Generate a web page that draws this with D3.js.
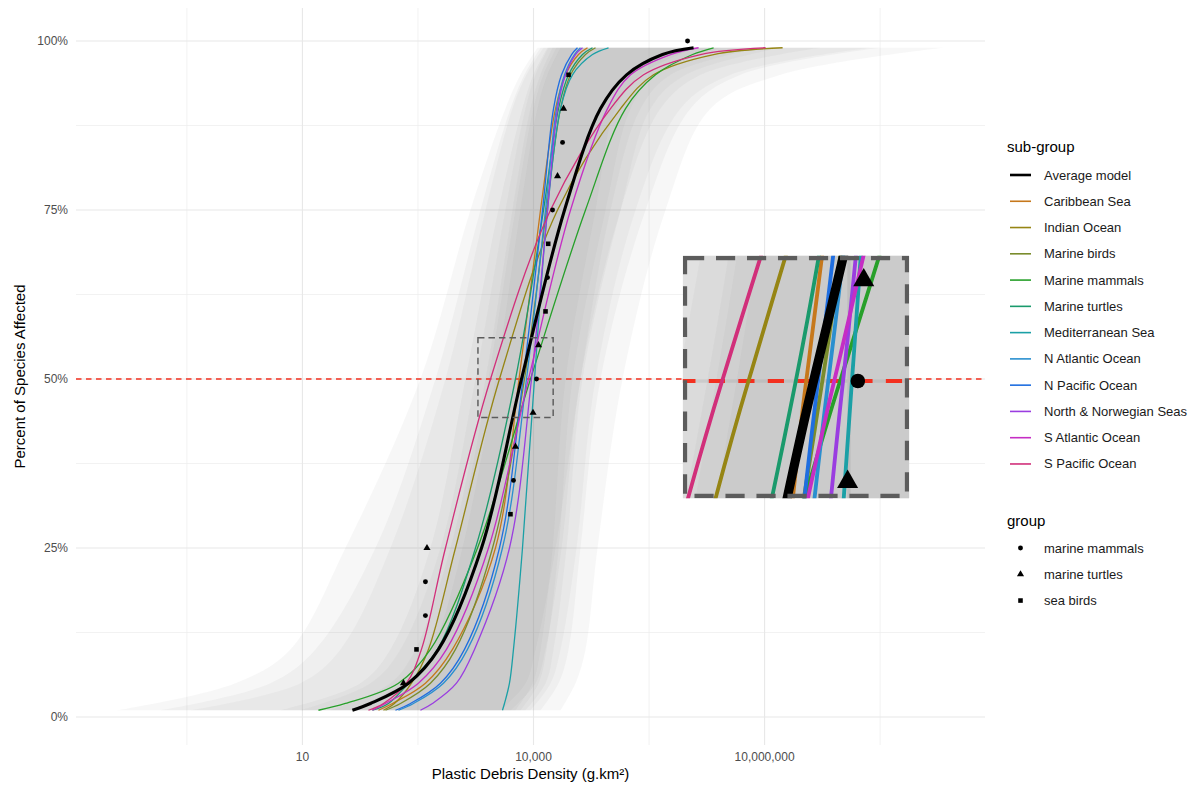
<!DOCTYPE html>
<html>
<head>
<meta charset="utf-8">
<script src="https://cdn.jsdelivr.net/npm/d3@7"></script>
<style>
  body { margin: 0; background: #ffffff; }
  text { font-family: "Liberation Sans", Arial, Helvetica, sans-serif; }
</style>
</head>
<body>
<svg id="chart" width="1197" height="785"></svg>
<script>
// ---------------- DATA ----------------
// cumulative probability levels at which each fitted curve was read (log10 density)
const curveLevels = [0.01, 0.02, 0.05, 0.10, 0.25, 0.50, 0.75, 0.90, 0.95, 0.98, 0.99];

const subGroupNames = ["Average model", "Caribbean Sea", "Indian Ocean", "Marine birds",
  "Marine mammals", "Marine turtles", "Mediterranean Sea", "N Atlantic Ocean",
  "N Pacific Ocean", "North & Norwegian Seas", "S Atlantic Ocean", "S Pacific Ocean"];
const subGroupColors = ["#000000", "#c6781c", "#968514", "#7a8c2c", "#27a02a", "#1a9a6c",
  "#1ba0a6", "#2a8fcf", "#1f6ee0", "#9a3de0", "#c52ec4", "#d12f7a"];

// log10(plastic debris density, g.km²) at each level
const averageModel       = [1.649, 1.883, 2.377, 2.766, 3.325, 3.844, 4.403, 4.870, 5.208, 5.675, 6.078];
const caribbeanSea       = [1.987, 2.169, 2.597, 2.948, 3.506, 3.812, 4.091, 4.286, 4.416, 4.584, 4.701];
const indianOcean        = [2.052, 2.195, 2.416, 2.636, 2.987, 3.558, 4.312, 5.130, 5.558, 6.338, 7.234];
const marineBirds        = [2.078, 2.273, 2.662, 2.987, 3.468, 3.883, 4.169, 4.351, 4.481, 4.675, 4.805];
const marineMammals      = [1.208, 1.558, 2.247, 2.662, 3.273, 3.961, 4.675, 5.195, 5.584, 6.065, 6.338];
const marineTurtles      = [1.909, 2.117, 2.377, 2.753, 3.247, 3.766, 4.130, 4.325, 4.455, 4.636, 4.766];
const mediterraneanSea   = [3.597, 3.623, 3.688, 3.740, 3.857, 4.013, 4.182, 4.351, 4.506, 4.766, 4.974];
const nAtlanticOcean     = [2.247, 2.442, 2.831, 3.143, 3.597, 3.909, 4.156, 4.299, 4.403, 4.532, 4.610];
const nPacificOcean      = [2.208, 2.403, 2.792, 3.104, 3.558, 3.864, 4.117, 4.260, 4.364, 4.494, 4.571];
const northNorwegianSeas = [2.532, 2.688, 3.000, 3.234, 3.688, 3.974, 4.182, 4.312, 4.416, 4.545, 4.636];
const sAtlanticOcean     = [1.909, 2.078, 2.506, 2.870, 3.416, 3.935, 4.481, 4.961, 5.260, 5.779, 6.143];
const sPacificOcean      = [1.857, 2.052, 2.351, 2.545, 2.857, 3.442, 4.221, 5.000, 5.429, 6.169, 7.013];

// confidence ribbons (log10 density, lower / upper bound) at these levels
const ribbonLevels = [0.01, 0.05, 0.10, 0.25, 0.50, 0.75, 0.90, 0.95, 0.99];
const ribbonLower = [
  [-1.403, 0.130, 0.844, 1.558, 2.532, 3.182, 3.636, 3.831, 4.052],
  [ 0.974, 1.883, 2.273, 2.792, 3.247, 3.636, 3.896, 4.026, 4.195],
  [-0.455, 0.974, 1.494, 2.143, 2.857, 3.377, 3.727, 3.909, 4.130],
  [ 1.364, 2.143, 2.468, 2.922, 3.377, 3.727, 3.961, 4.091, 4.247],
  [ 0.714, 1.753, 2.143, 2.662, 3.117, 3.545, 3.857, 4.000, 4.182],
  [ 1.623, 2.273, 2.597, 2.987, 3.416, 3.766, 4.000, 4.130, 4.299],
  [ 1.883, 2.403, 2.688, 3.078, 3.506, 3.831, 4.052, 4.182, 4.351],
  [-0.844, 0.584, 1.169, 1.948, 2.727, 3.312, 3.701, 3.883, 4.091]
];
const ribbonUpper = [
  [3.571, 3.896, 4.026, 4.286, 4.610, 5.000, 5.390, 5.779, 6.948],
  [4.351, 4.545, 4.675, 4.831, 5.156, 5.714, 6.299, 7.208, 9.325],
  [3.961, 4.221, 4.351, 4.558, 4.805, 5.325, 5.909, 6.558, 8.377],
  [4.091, 4.325, 4.455, 4.610, 4.870, 5.455, 6.039, 6.688, 8.506],
  [3.896, 4.156, 4.260, 4.429, 4.636, 5.130, 5.519, 5.974, 7.208],
  [3.831, 4.065, 4.169, 4.325, 4.506, 4.935, 5.260, 5.584, 6.429],
  [3.766, 3.987, 4.091, 4.247, 4.416, 4.805, 5.065, 5.390, 6.104],
  [3.701, 4.026, 4.156, 4.364, 4.610, 5.130, 5.649, 6.169, 7.727]
];

// observed species points
const pointPercent    = [0.05, 0.10, 0.15, 0.20, 0.25, 0.30, 0.35, 0.40, 0.45, 0.50,
                         0.55, 0.60, 0.65, 0.70, 0.75, 0.80, 0.85, 0.90, 0.95, 1.00];
const pointLogDensity = [2.312, 2.481, 2.597, 2.597, 2.617, 3.701, 3.740, 3.766, 3.994, 4.039,
                         4.065, 4.156, 4.182, 4.191, 4.247, 4.312, 4.377, 4.390, 4.455, 6.000];
const pointGroup = ["marine turtles", "sea birds", "marine mammals", "marine mammals", "marine turtles",
  "sea birds", "marine mammals", "marine turtles", "marine turtles", "marine mammals",
  "marine turtles", "sea birds", "marine mammals", "sea birds", "marine mammals",
  "marine turtles", "marine mammals", "marine turtles", "sea birds", "marine mammals"];
const groupNames = ["marine mammals", "marine turtles", "sea birds"];

// axis ticks
const xMajorBreaks = [10, 10000, 10000000];
const xTickLabels = ["10", "10,000", "10,000,000"];
const xMinorBreaks = [0.31623, 316.23, 316228, 316227766];
const yMajorBreaks = [0, 0.25, 0.5, 0.75, 1];
const yTickLabels = ["0%", "25%", "50%", "75%", "100%"];
const yMinorBreaks = [0.125, 0.375, 0.625, 0.875];
const referenceLevel = 0.5;
const zoomBoxDensity = [1900, 18000];
const zoomBoxPercent = [0.443, 0.561];

// ---------------- LAYOUT ----------------
const svg = d3.select("#chart");
const panel = { left: 76, right: 985, top: 8, bottom: 745 };
const insetFrame = { left: 685, top: 258, right: 907, bottom: 496 };

const seriesList = [averageModel, caribbeanSea, indianOcean, marineBirds, marineMammals,
  marineTurtles, mediterraneanSea, nAtlanticOcean, nPacificOcean, northNorwegianSeas,
  sAtlanticOcean, sPacificOcean];

const allLg = [].concat(...seriesList, ...ribbonLower, ...ribbonUpper, pointLogDensity);
const lgMin = d3.min(allLg), lgMax = d3.max(allLg);
const lgPad = (lgMax - lgMin) * 0.05;
const x = d3.scaleLog()
  .domain([Math.pow(10, lgMin - lgPad), Math.pow(10, lgMax + lgPad)])
  .range([panel.left, panel.right]);
const y = d3.scaleLinear().domain([0, 1]).range([717, 41]);
const dens = lg => Math.pow(10, lg);

const curveLine = d3.line()
  .x(d => x(dens(d.lg)))
  .y(d => y(d.p))
  .curve(d3.curveCatmullRom.alpha(0.5));

const ribbonArea = d3.area()
  .y(d => y(d.p))
  .x0(d => x(dens(d.lo)))
  .x1(d => x(dens(d.hi)))
  .curve(d3.curveCatmullRom.alpha(0.5));

const shapeFor = { "marine mammals": d3.symbolCircle, "marine turtles": d3.symbolTriangle, "sea birds": d3.symbolSquare };
const sizeFor = { "marine mammals": 19, "marine turtles": 22, "sea birds": 21 };

function drawPanel(g) {
  // grid
  const grid = g.append("g");
  yMinorBreaks.forEach(v => grid.append("line").attr("x1", panel.left).attr("x2", panel.right)
    .attr("y1", y(v)).attr("y2", y(v)).attr("stroke", "#ececec").attr("stroke-width", 0.7));
  xMinorBreaks.forEach(v => grid.append("line").attr("y1", panel.top).attr("y2", panel.bottom)
    .attr("x1", x(v)).attr("x2", x(v)).attr("stroke", "#ececec").attr("stroke-width", 0.7));
  yMajorBreaks.forEach(v => grid.append("line").attr("x1", panel.left).attr("x2", panel.right)
    .attr("y1", y(v)).attr("y2", y(v)).attr("stroke", "#e8e8e8").attr("stroke-width", 1.1));
  xMajorBreaks.forEach(v => grid.append("line").attr("y1", panel.top).attr("y2", panel.bottom)
    .attr("x1", x(v)).attr("x2", x(v)).attr("stroke", "#e8e8e8").attr("stroke-width", 1.1));

  // ribbons
  ribbonLower.forEach((lo, i) => {
    const data = ribbonLevels.map((p, j) => ({ p, lo: lo[j], hi: ribbonUpper[i][j] })).reverse();
    g.append("path").attr("d", ribbonArea(data))
      .attr("fill", "#8c8c8c").attr("fill-opacity", 0.07).attr("stroke", "none");
  });

  // 50% reference line
  g.append("line").attr("x1", panel.left).attr("x2", panel.right)
    .attr("y1", y(referenceLevel)).attr("y2", y(referenceLevel))
    .attr("stroke", "#f3301f").attr("stroke-width", 1.3).attr("stroke-dasharray", "5.5,4.5");

  // sub-group curves (colored first, average on top)
  const order = d3.range(1, seriesList.length).concat([0]);
  order.forEach(i => {
    const data = curveLevels.map((p, j) => ({ p, lg: seriesList[i][j] })).reverse();
    g.append("path").attr("d", curveLine(data)).attr("fill", "none")
      .attr("stroke", subGroupColors[i]).attr("stroke-width", i === 0 ? 3.1 : 1.3)
      .attr("stroke-linecap", "butt");
  });

  // observed points
  pointPercent.forEach((p, i) => {
    const grp = pointGroup[i];
    g.append("path")
      .attr("d", d3.symbol().type(shapeFor[grp]).size(sizeFor[grp])())
      .attr("transform", `translate(${x(dens(pointLogDensity[i]))},${y(p)})`)
      .attr("fill", "#000");
  });

  // zoom box
  g.append("rect")
    .attr("x", x(zoomBoxDensity[0])).attr("y", y(zoomBoxPercent[1]))
    .attr("width", x(zoomBoxDensity[1]) - x(zoomBoxDensity[0]))
    .attr("height", y(zoomBoxPercent[0]) - y(zoomBoxPercent[1]))
    .attr("fill", "none").attr("stroke", "#5c5c5c").attr("stroke-width", 1.45)
    .attr("stroke-dasharray", "6.5,4");
}

// main panel
drawPanel(svg.append("g"));

// inset (magnified copy of the dashed box)
const bx0 = x(zoomBoxDensity[0]), bx1 = x(zoomBoxDensity[1]);
const by0 = y(zoomBoxPercent[1]), by1 = y(zoomBoxPercent[0]);
const sx = (insetFrame.right - insetFrame.left) / (bx1 - bx0);
const sy = (insetFrame.bottom - insetFrame.top) / (by1 - by0);
const halfStroke = 1.45 * sx / 2;
const defs = svg.append("defs");
defs.append("clipPath").attr("id", "insetClip").append("rect")
  .attr("x", insetFrame.left - halfStroke).attr("y", insetFrame.top - halfStroke)
  .attr("width", insetFrame.right - insetFrame.left + 2 * halfStroke)
  .attr("height", insetFrame.bottom - insetFrame.top + 2 * halfStroke);
const inset = svg.append("g").attr("clip-path", "url(#insetClip)");
inset.append("rect")
  .attr("x", insetFrame.left - halfStroke).attr("y", insetFrame.top - halfStroke)
  .attr("width", insetFrame.right - insetFrame.left + 2 * halfStroke)
  .attr("height", insetFrame.bottom - insetFrame.top + 2 * halfStroke)
  .attr("fill", "#ffffff");
drawPanel(inset.append("g")
  .attr("transform", `translate(${insetFrame.left - sx * bx0},${insetFrame.top - sy * by0}) scale(${sx},${sy})`));

// axes labels
const axisG = svg.append("g");
xMajorBreaks.forEach((v, i) => axisG.append("text")
  .attr("x", x(v)).attr("y", 761).attr("text-anchor", "middle")
  .attr("font-size", 12).attr("fill", "#4d4d4d").text(xTickLabels[i]));
yMajorBreaks.forEach((v, i) => axisG.append("text")
  .attr("x", 68).attr("y", y(v) + 4.3).attr("text-anchor", "end")
  .attr("font-size", 12).attr("fill", "#4d4d4d").text(yTickLabels[i]));
axisG.append("text").attr("x", (panel.left + panel.right) / 2).attr("y", 779)
  .attr("text-anchor", "middle").attr("font-size", 15).attr("fill", "#000")
  .text("Plastic Debris Density (g.km²)");
axisG.append("text").attr("transform", `translate(25,${(panel.top + panel.bottom) / 2}) rotate(-90)`)
  .attr("text-anchor", "middle").attr("font-size", 15).attr("fill", "#000")
  .text("Percent of Species Affected");

// legend: sub-group
const leg = svg.append("g");
leg.append("text").attr("x", 1007).attr("y", 151.5).attr("font-size", 15).attr("fill", "#000").text("sub-group");
subGroupNames.forEach((name, i) => {
  const yy = 175 + i * 26.27;
  leg.append("line").attr("x1", 1010).attr("x2", 1031).attr("y1", yy).attr("y2", yy)
    .attr("stroke", subGroupColors[i]).attr("stroke-width", i === 0 ? 2.6 : 1.6);
  leg.append("text").attr("x", 1044).attr("y", yy + 4.5).attr("font-size", 13)
    .attr("fill", "#1a1a1a").text(name);
});
// legend: group
leg.append("text").attr("x", 1007).attr("y", 526).attr("font-size", 15).attr("fill", "#000").text("group");
groupNames.forEach((name, i) => {
  const yy = 548 + i * 26.27;
  leg.append("path").attr("d", d3.symbol().type(shapeFor[name]).size(sizeFor[name])())
    .attr("transform", `translate(1020.5,${yy})`).attr("fill", "#000");
  leg.append("text").attr("x", 1044).attr("y", yy + 4.5).attr("font-size", 13)
    .attr("fill", "#1a1a1a").text(name);
});
</script>
</body>
</html>
